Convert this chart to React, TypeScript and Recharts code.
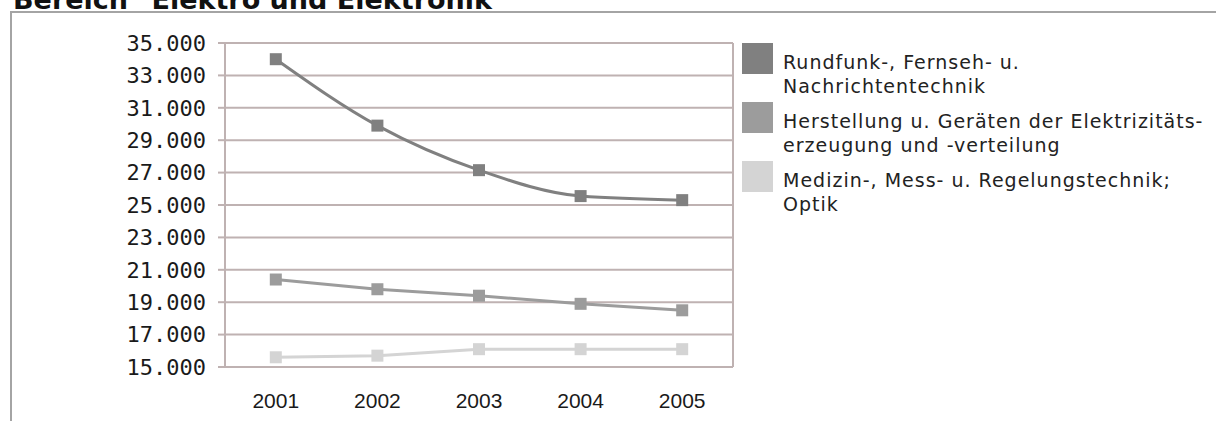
import { CartesianGrid, Legend, Line, LineChart, XAxis, YAxis } from "recharts";

const years = [2001, 2002, 2003, 2004, 2005];
const bandEdges = [2000.5, 2001.5, 2002.5, 2003.5, 2004.5, 2005.5];
const yTicks = [15000, 17000, 19000, 21000, 23000, 25000, 27000, 29000, 31000, 33000, 35000];

const rundfunk = [34000, 29900, 27150, 25550, 25300];
const herstellung = [20400, 19800, 19400, 18900, 18500];
const medizin = [15600, 15700, 16100, 16100, 16100];

const seriesKeys = ["rundfunk", "herstellung", "medizin"];

const legendLines: Record<string, string[]> = {
  rundfunk: ["Rundfunk-, Fernseh- u.", "Nachrichtentechnik"],
  herstellung: ["Herstellung u. Geräten der Elektrizitäts-", "erzeugung und -verteilung"],
  medizin: ["Medizin-, Mess- u. Regelungstechnik;", "Optik"],
};

const colors: Record<string, string> = {
  rundfunk: "#808080",
  herstellung: "#9c9c9c",
  medizin: "#d4d4d4",
};

const data = years.map((year, i) => ({
  year,
  rundfunk: rundfunk[i],
  herstellung: herstellung[i],
  medizin: medizin[i],
}));

const gridColor = "#bfb2b2";

function formatThousands(v: number) {
  return String(v).replace(/\B(?=(\d{3})+(?!\d))/g, ".");
}

function squareDot(color: string) {
  return (props: any) => {
    const { cx, cy, index } = props;
    if (cx == null || cy == null) return <g key={index} />;
    return <rect key={index} x={cx - 6} y={cy - 6} width={12} height={12} fill={color} />;
  };
}

// legend keeps the series order of the original, not alphabetical
function LegendBox() {
  return (
    <div style={{ fontFamily: "'DejaVu Sans', Verdana, sans-serif", fontSize: 19, letterSpacing: 1, color: "#222" }}>
      {seriesKeys.map((key) => (
        <div key={key} style={{ display: "flex", height: 59 }}>
          <div style={{ width: 31, height: 31, background: colors[key], flexShrink: 0 }} />
          <div style={{ marginLeft: 10, marginTop: 7, lineHeight: "24px" }}>
            {legendLines[key].map((t) => (
              <div key={t} style={{ whiteSpace: "nowrap" }}>{t}</div>
            ))}
          </div>
        </div>
      ))}
    </div>
  );
}

export default function App() {
  return (
    <div style={{ position: "absolute", left: 0, top: 0, width: 1216, height: 421, overflow: "hidden", background: "#fff" }}>
      <div
        style={{
          position: "absolute",
          left: 13,
          top: -14,
          fontFamily: "'DejaVu Sans', Verdana, sans-serif",
          fontWeight: "bold",
          fontSize: 27,
          lineHeight: "27px",
          color: "#111",
          whiteSpace: "nowrap",
        }}
      >
        Bereich "Elektro und Elektronik"
      </div>
      <div
        style={{
          position: "absolute",
          left: 10,
          top: 11,
          width: 1300,
          height: 500,
          borderTop: "2px solid #a4a4a4",
          borderLeft: "2px solid #a4a4a4",
        }}
      />
      <div style={{ position: "absolute", left: 0, top: 0 }}>
        <LineChart width={1216} height={421} data={data} margin={{ top: 43, right: 483, bottom: 0, left: 0 }}>
          <CartesianGrid xAxisId="bounds" stroke={gridColor} strokeWidth={2} />
          <XAxis
            xAxisId="bounds"
            dataKey="year"
            type="number"
            domain={[2000.5, 2005.5]}
            ticks={bandEdges}
            interval={0}
            tick={false}
            tickSize={7}
            tickLine={{ stroke: gridColor, strokeWidth: 2 }}
            axisLine={false}
            height={0}
          />
          <XAxis
            xAxisId="years"
            dataKey="year"
            type="number"
            domain={[2000.5, 2005.5]}
            ticks={years}
            interval={0}
            tickLine={false}
            axisLine={false}
            tickSize={0}
            tickMargin={26}
            height={54}
            tick={{ fill: "#1a1a1a", fontSize: 21, fontFamily: "'Liberation Sans', Arial, sans-serif" }}
          />
          <YAxis
            domain={[15000, 35000]}
            ticks={yTicks}
            interval={0}
            width={225}
            tickSize={7}
            tickMargin={12}
            axisLine={false}
            tickLine={{ stroke: gridColor, strokeWidth: 2 }}
            tickFormatter={formatThousands}
            tick={{ fill: "#1a1a1a", fontSize: 22, fontFamily: "'DejaVu Sans Mono', monospace" }}
          />
          <Legend
            layout="vertical"
            align="center"
            verticalAlign="middle"
            wrapperStyle={{ left: 742, top: 43, width: 474 }}
            content={LegendBox}
          />
          <Line
            xAxisId="years"
            type="monotone"
            dataKey="rundfunk"
            stroke={colors.rundfunk}
            strokeWidth={3}
            dot={squareDot(colors.rundfunk)}
            activeDot={false}
            isAnimationActive={false}
          />
          <Line
            xAxisId="years"
            type="linear"
            dataKey="herstellung"
            stroke={colors.herstellung}
            strokeWidth={3}
            dot={squareDot(colors.herstellung)}
            activeDot={false}
            isAnimationActive={false}
          />
          <Line
            xAxisId="years"
            type="linear"
            dataKey="medizin"
            stroke={colors.medizin}
            strokeWidth={3}
            dot={squareDot(colors.medizin)}
            activeDot={false}
            isAnimationActive={false}
          />
        </LineChart>
      </div>
    </div>
  );
}
